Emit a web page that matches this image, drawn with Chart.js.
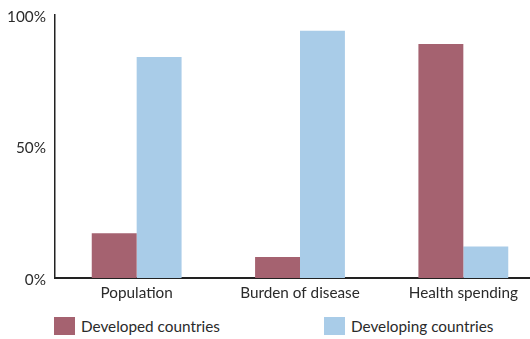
<!DOCTYPE html>
<html>
<head>
<meta charset="utf-8">
<script src="https://cdn.jsdelivr.net/npm/chart.js@4.4.0/dist/chart.umd.min.js"></script>
<style>
    html, body {
        margin: 0;
        padding: 0;
        background: #fff;
        overflow: hidden;
        width: 530px;
        height: 339px;
    }
    .chart-wrap {
        position: absolute;
        left: 0;
        top: 0;
        width: 545px;
        height: 305px;
    }
    .legend {
        position: absolute;
        left: 54px;
        top: 317px;
        display: flex;
        font-family: Lato, "Noto Sans", sans-serif;
        font-size: 15.3px;
        color: #2a2a2a;
    }
    .legend-item {
        display: flex;
        align-items: center;
        width: 270px;
    }
    .legend-box {
        width: 21px;
        height: 18px;
        margin-right: 6px;
    }
</style>
</head>
<body>
<div class="chart-wrap"><canvas id="shareChart"></canvas></div>
<div class="legend" id="legend"></div>
<script>
const categories = ['Population', 'Burden of disease', 'Health spending'];
const developed = [17, 8, 89];
const developing = [84, 94, 12];
const yTicks = [0, 50, 100];

document.addEventListener('DOMContentLoaded', function() {
    initializeShareChart();
});

function initializeShareChart() {
    const ctx = document.getElementById('shareChart').getContext('2d');
    const font = { family: 'Lato, "Noto Sans", sans-serif', size: 15.3 };

    const chart = new Chart(ctx, {
        type: 'bar',
        data: {
            labels: categories,
            datasets: [
                {
                    label: 'Developed countries',
                    data: developed,
                    backgroundColor: '#A56270'
                },
                {
                    label: 'Developing countries',
                    data: developing,
                    backgroundColor: '#A9CCE8'
                }
            ]
        },
        options: {
            responsive: true,
            maintainAspectRatio: false,
            animation: false,
            barPercentage: 1,
            categoryPercentage: 0.55,
            layout: {
                padding: { top: 15, right: 0, bottom: 0, left: 0 }
            },
            plugins: {
                legend: { display: false },
                tooltip: { enabled: false }
            },
            scales: {
                y: {
                    min: 0,
                    max: 100,
                    afterBuildTicks: function(scale) {
                        scale.ticks = yTicks.map(v => ({ value: v }));
                    },
                    afterFit: function(scale) {
                        scale.width = 55;
                        // let the layout padding alone fix the top of the plot
                        scale.paddingTop = 0;
                        scale.paddingBottom = 0;
                    },
                    grid: {
                        display: false,
                        drawTicks: false
                    },
                    border: {
                        color: '#222',
                        width: 1.5
                    },
                    ticks: {
                        padding: 9,
                        labelOffset: 2,
                        color: '#2a2a2a',
                        font: font,
                        callback: v => v + '%'
                    }
                },
                x: {
                    afterFit: function(scale) {
                        scale.height = 27;
                    },
                    grid: {
                        display: false,
                        drawTicks: false
                    },
                    border: {
                        color: '#222',
                        width: 2
                    },
                    ticks: {
                        padding: 6,
                        color: '#2a2a2a',
                        font: font,
                        maxRotation: 0
                    }
                }
            }
        }
    });

    // Legend built from the datasets
    const legend = document.getElementById('legend');
    chart.data.datasets.forEach(function(ds) {
        const item = document.createElement('div');
        item.className = 'legend-item';
        const box = document.createElement('span');
        box.className = 'legend-box';
        box.style.background = ds.backgroundColor;
        const text = document.createElement('span');
        text.textContent = ds.label;
        item.appendChild(box);
        item.appendChild(text);
        legend.appendChild(item);
    });
}
</script>
</body>
</html>
